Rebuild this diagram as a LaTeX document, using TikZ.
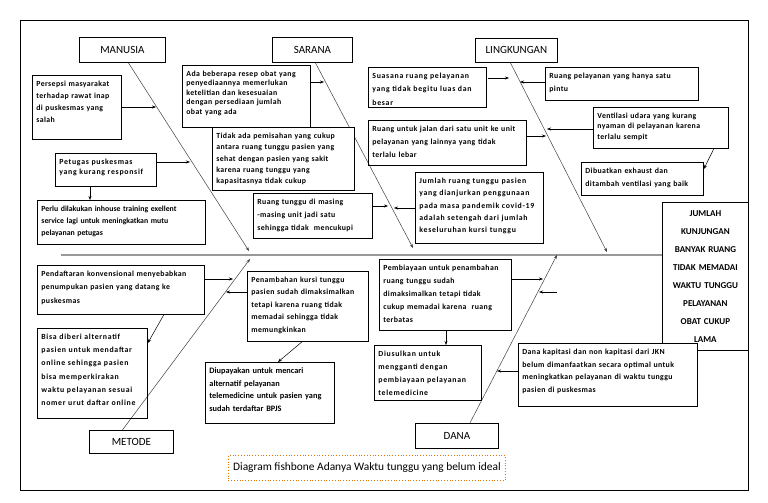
\documentclass[tikz,border=0pt]{standalone}
\usepackage{fontspec}
\setmainfont{Carlito}
\newfontfamily\lsA{Carlito}
\newfontfamily\lsB[LetterSpace=5]{Carlito}
\newfontfamily\lsC[LetterSpace=9]{Carlito}
\usetikzlibrary{arrows.meta}
\begin{document}
\begin{tikzpicture}[x=1pt,y=-1pt,
  frame/.style={draw, line width=0.8pt},
  cat/.style={draw, line width=0.8pt, anchor=north west, inner sep=0pt, font=\fontsize{11}{13}\selectfont},
  cause/.style={draw, line width=0.8pt, anchor=north west, align=left, inner xsep=4pt, inner ysep=5pt, text height=6pt},
  fA/.style={font=\lsA\fontsize{7.8}{#1}\selectfont\bfseries},
  fB/.style={font=\lsB\fontsize{7.8}{#1}\selectfont\bfseries},
  fC/.style={font=\lsC\fontsize{7.8}{#1}\selectfont\bfseries},
  effect/.style={draw, line width=0.8pt, anchor=north west, align=center, inner sep=0pt, font=\fontsize{9}{18}\selectfont\bfseries},
  arr/.style={-{Stealth[length=4pt,width=3pt]}, line width=0.5pt},
  bone/.style={line width=0.6pt, draw=black!75},
  spine/.style={line width=2pt, draw=black!40},
  titlebox/.style={draw=orange!90!black, dotted, line width=0.8pt, anchor=north west, inner sep=0pt, font=\fontsize{11.4}{13}\selectfont}
]
\useasboundingbox (0,0) rectangle (768,503);
\draw[frame] (20,20) rectangle (748,490);

% category boxes
\node[cat, minimum width=86pt, minimum height=25pt] (manusia) at (79,37) {MANUSIA};
\node[cat, minimum width=80pt, minimum height=25pt] (sarana) at (272,37) {SARANA};
\node[cat, minimum width=82pt, minimum height=24pt] (lingk) at (475,38) {LINGKUNGAN};
\node[cat, minimum width=84pt, minimum height=23pt] (metode) at (89,430) {METODE};
\node[cat, minimum width=83pt, minimum height=25pt] (dana) at (415,423) {DANA};

% effect
\node[effect, minimum width=86pt, minimum height=148pt, text width=84pt] (eff) at (662,202)
  {JUMLAH\\KUNJUNGAN\\BANYAK RUANG\\TIDAK MEMADAI\\WAKTU TUNGGU\\PELAYANAN\\OBAT CUKUP\\LAMA};

% spine
\coordinate (sp0) at (61,255);
\draw[spine] (sp0) -- (eff.west |- sp0);

% bones
\coordinate (mEnd) at (249,251);
\coordinate (sEnd) at (413,248);
\coordinate (lEnd) at (607,252);
\coordinate (meEnd) at (250,259);
\coordinate (dEnd) at (557,255);
\draw[bone, arr] ([xshift=6pt]manusia.south) -- (mEnd);
\draw[bone, arr] ([xshift=3pt]sarana.south) -- (sEnd);
\draw[bone, arr] ([xshift=-6pt]lingk.south) -- (lEnd);
\draw[bone, arr] ([xshift=-9pt]metode.north) -- (meEnd);
\draw[bone, arr] ([xshift=13pt]dana.north) -- (dEnd);

% causes
\node[cause, fB=12, minimum width=89pt, text width=81pt, text depth=48pt] (c1) at (32,75)
  {Persepsi masyarakat\\terhadap rawat inap\\di puskesmas yang\\salah};
\node[cause, fC=10.5, minimum width=101pt, text width=93pt, text depth=17pt] (c2) at (55,153)
  {Petugas puskesmas\\yang kurang responsif};
\node[cause, fA=12, minimum width=168pt, text width=160pt, text depth=28pt] (c3) at (37,200)
  {Perlu dilakukan inhouse training exellent\\service lagi untuk meningkatkan mutu\\pelayanan petugas};
\node[cause, fB=9.5, minimum width=128pt, text width=120pt, text depth=46pt] (c4) at (182,65)
  {Ada beberapa resep obat yang\\penyediaannya memerlukan\\ketelitian dan kesesuaian\\dengan persediaan jumlah\\obat yang ada};
\node[cause, fB=11.3, minimum width=142pt, text width=134pt, text depth=47pt, fill=white] (c5) at (212,127)
  {Tidak ada pemisahan yang cukup\\antara ruang tunggu pasien yang\\sehat dengan pasien yang sakit\\karena ruang tunggu yang\\kapasitasnya tidak cukup};
\node[cause, fB=13, minimum width=119pt, text width=111pt, text depth=29pt] (c6) at (253,193)
  {Ruang tunggu di masing\\-masing unit jadi satu\\sehingga tidak\ \ mencukupi};
\node[cause, fC=13.5, minimum width=118pt, text width=110pt, text depth=24pt] (c7) at (368,67)
  {Suasana ruang pelayanan\\yang tidak begitu luas dan\\besar};
\node[cause, fB=13, minimum width=153pt, text width=145pt, text depth=17pt] (c8) at (545,67)
  {Ruang pelayanan yang hanya satu\\pintu};
\node[cause, fB=13, minimum width=158pt, text width=150pt, text depth=29pt] (c9) at (368,120)
  {Ruang untuk jalan dari satu unit ke unit\\pelayanan yang lainnya yang tidak\\terlalu lebar};
\node[cause, fB=10.5, minimum width=135pt, text width=127pt, text depth=25pt] (c10) at (593,107)
  {Ventilasi udara yang kurang\\nyaman di pelayanan karena\\terlalu sempit};
\node[cause, fB=13, minimum width=122pt, text width=114pt, text depth=17pt] (c11) at (581,162)
  {Dibuatkan exhaust dan\\ditambah ventilasi yang baik};
\node[cause, fC=12.3, minimum width=128pt, text width=120pt, text depth=55pt] (c12) at (415,172)
  {Jumlah ruang tunggu pasien\\yang dianjurkan penggunaan\\pada masa pandemik covid-19\\adalah setengah dari jumlah\\keseluruhan kursi tunggu};
\node[cause, fB=13.5, minimum width=167pt, text width=159pt, text depth=33pt] (c13) at (37,265)
  {Pendaftaran konvensional menyebabkan\\penumpukan pasien yang datang ke\\puskesmas};
\node[cause, fC=13.2, minimum width=110pt, text width=102pt, text depth=74pt] (c14) at (37,328)
  {Bisa diberi alternatif\\pasien untuk mendaftar\\online sehingga pasien\\bisa memperkirakan\\waktu pelayanan sesuai\\nomer urut daftar online};
\node[cause, fB=12.5, minimum width=121pt, text width=113pt, text depth=54pt] (c15) at (247,271)
  {Penambahan kursi tunggu\\pasien sudah dimaksimalkan\\tetapi karena ruang tidak\\memadai sehingga tidak\\memungkinkan};
\node[cause, font=\lsA\fontsize{8.3}{12.7}\selectfont\bfseries, minimum width=129pt, text width=121pt, text depth=45pt] (c16) at (205,362)
  {Diupayakan untuk mencari\\alternatif pelayanan\\telemedicine untuk pasien yang\\sudah terdaftar BPJS};
\node[cause, fB=13, minimum width=132pt, text width=124pt, text depth=55pt] (c17) at (379,259)
  {Pembiayaan untuk penambahan\\ruang tunggu sudah\\dimaksimalkan tetapi tidak\\cukup memadai karena\ \ ruang\\terbatas};
\node[cause, fC=13, minimum width=107pt, text width=99pt, text depth=39pt] (c18) at (374,345)
  {Diusulkan untuk\\mengganti dengan\\pembiayaan pelayanan\\telemedicine};
\node[cause, fB=12.7, minimum width=179pt, text width=171pt, text depth=47pt, fill=white] (c19) at (518,343)
  {Dana kapitasi dan non kapitasi dari JKN\\belum dimanfaatkan secara optimal untuk\\meningkatkan pelayanan di waktu tunggu\\pasien di puskesmas};

% title
\node[titlebox, minimum width=277pt, minimum height=25pt] (title) at (228,455)
  {Diagram fishbone Adanya Waktu tunggu yang belum ideal};

% arrow tip coordinates on bones
\coordinate (t1) at (156,107);
\coordinate (t2) at (190,162);
\coordinate (t4) at (324,82);
\coordinate (t6) at (388,206);
\coordinate (t12) at (394,208);
\coordinate (t7s) at (488,78);
\coordinate (t7) at (509,78);
\coordinate (t8) at (520,82);
\coordinate (t9) at (546,136);
\coordinate (t10) at (547,129);
\coordinate (t13) at (233,279);
\coordinate (t15) at (226,292);
\coordinate (t17) at (543,279);
\coordinate (t17b) at (557,292);
\coordinate (t17c) at (539,292);
\coordinate (t19) at (497,371);

% connectors
\draw[arr] (c1.east |- t1) -- (t1);
\draw[arr] (c2.east |- t2) -- (t2);
\draw[arr] ([xshift=35pt]c2.south west) -- ([xshift=53pt]c3.north west);
\draw[arr] (c4.east |- t4) -- (t4);
\draw[arr] (c6.east |- t6) -- (t6);
\draw[arr] (c12.west |- t12) -- (t12);
\draw[arr] (t7s) -- (t7);
\draw[arr] (c8.west |- t8) -- (t8);
\draw[arr] (c9.east |- t9) -- (t9);
\draw[arr] (c10.west |- t10) -- (t10);
\draw[arr] ([xshift=-15pt]c10.south east) -- ([yshift=-7pt]c11.north east);
\draw[arr] (c13.east |- t13) -- (t13);
\draw[arr] ([xshift=-41pt]c13.south east) -- ([yshift=-15pt]c14.north east);
\draw[arr] (c15.west |- t15) -- (t15);
\draw[arr] ([xshift=55pt]c15.south west) -- ([xshift=73pt]c16.north west);
\draw[arr] (c17.east |- t17) -- (t17);
\draw[arr] (t17b) -- (t17c);
\draw[arr] ([xshift=67pt]c17.south west) -- ([xshift=72pt]c18.north west);
\draw[arr] (c19.west |- t19) -- (t19);
\end{tikzpicture}
\end{document}
